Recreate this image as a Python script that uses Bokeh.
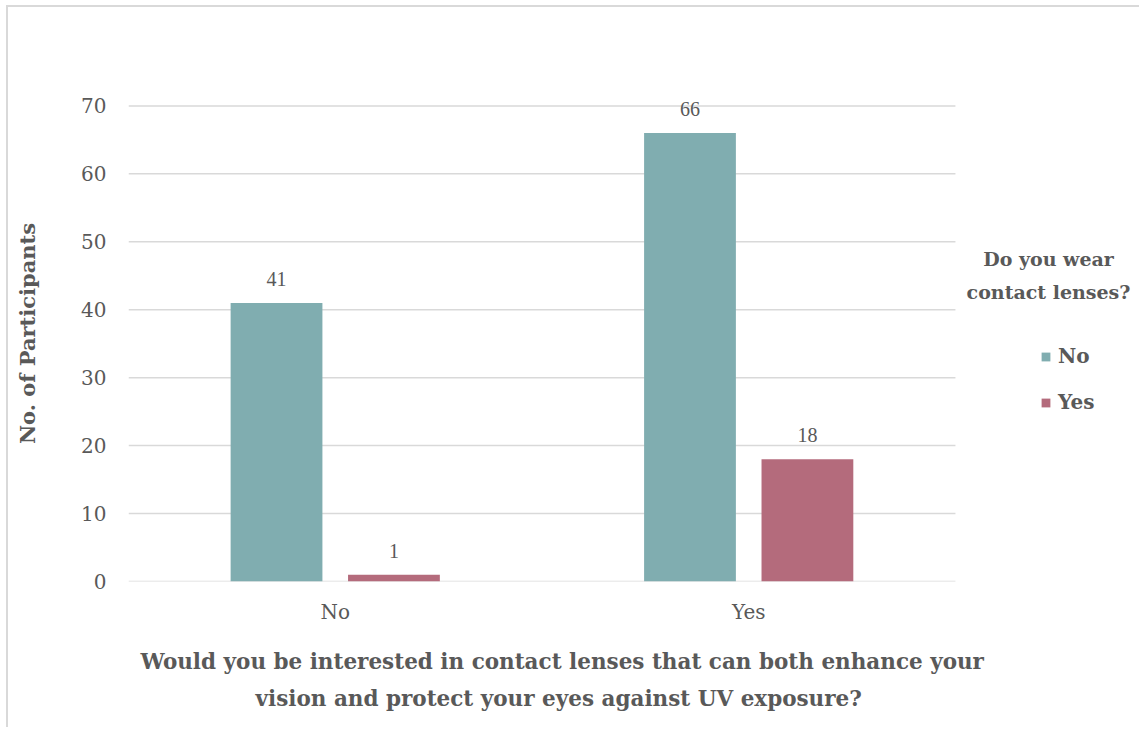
from bokeh.plotting import figure
from bokeh.models import (ColumnDataSource, Range1d, LabelSet, Label,
                          Legend, LegendItem, FixedTicker, Title)
from bokeh.transform import dodge
from bokeh.embed import file_html
from bokeh.resources import INLINE

# ---- data ----
categories = ["No", "Yes"]          # Would you be interested ...?
wear_no = [41, 66]                  # Do you wear contact lenses? No
wear_yes = [1, 18]                  # Do you wear contact lenses? Yes
series_names = ["No", "Yes"]
legend_title = ["Do you wear", "contact lenses?"]
x_title = ["Would you be interested in contact lenses that can both enhance your",
           "vision and protect your eyes against UV exposure?"]
y_title = "No. of Participants"
y_ticks = [0, 10, 20, 30, 40, 50, 60, 70]

TEAL = "#80ADB0"
PINK = "#B46B7C"
TXT = "#595959"
GRID = "#d9d9d9"
FONT = "DejaVu Serif"

n = len(categories)
centers = [i + 0.5 for i in range(n)]      # category centres on the x scale
src = ColumnDataSource(dict(xc=centers, no=wear_no, yes=wear_yes,
                            no_lbl=[str(v) for v in wear_no],
                            yes_lbl=[str(v) for v in wear_yes]))

W, H = 1133, 722
# the frame reaches the right edge so that the legend can sit inside it
p = figure(width=W, height=H, x_range=Range1d(0, 2.45), y_range=Range1d(0, 73),
           output_backend="svg", toolbar_location=None,
           min_border_left=120, min_border_right=0, min_border_top=78,
           min_border_bottom=148)
p.styles = {"margin-left": "6px", "margin-top": "5px",
            "border-left": "2px solid #d9d9d9", "border-top": "2px solid #d9d9d9"}

p.outline_line_color = None
p.background_fill_color = "white"
p.border_fill_color = "white"
p.xgrid.grid_line_color = None
p.ygrid.grid_line_color = None

# horizontal gridlines over the category span only
p.segment(x0=[0] * len(y_ticks), x1=[n] * len(y_ticks), y0=y_ticks, y1=y_ticks,
          line_color=GRID, line_width=1.5)

OFF = 0.142
BW = 0.222
r_no = p.vbar(x=dodge("xc", -OFF), top="no", width=BW, source=src,
              fill_color=TEAL, line_color=None)
r_yes = p.vbar(x=dodge("xc", OFF), top="yes", width=BW, source=src,
               fill_color=PINK, line_color=None)

for key, off in (("no", -OFF), ("yes", OFF)):
    p.add_layout(LabelSet(x=dodge("xc", off), y=key, text=key + "_lbl",
                          source=src, text_align="center", text_baseline="middle",
                          y_offset=24, text_font=FONT, text_font_size="20px",
                          text_color=TXT))

# axes
p.xaxis.ticker = FixedTicker(ticks=centers)
p.xaxis.major_label_overrides = {c: lab for c, lab in zip(centers, categories)}
p.yaxis.ticker = FixedTicker(ticks=y_ticks)
for ax in (p.xaxis[0], p.yaxis[0]):
    ax.axis_line_color = None
    ax.major_tick_line_color = None
    ax.minor_tick_line_color = None
    ax.major_tick_out = 0
    ax.major_tick_in = 0
    ax.major_label_text_font = FONT
    ax.major_label_text_font_size = "20px"
    ax.major_label_text_color = TXT
p.xaxis.major_label_standoff = 18
p.yaxis.major_label_standoff = 22
p.yaxis.axis_label = y_title
p.yaxis.axis_label_text_font = FONT
p.yaxis.axis_label_text_font_style = "bold"
p.yaxis.axis_label_text_font_size = "21px"
p.yaxis.axis_label_text_color = TXT
p.yaxis.axis_label_standoff = 38

# x-axis title, two lines
p.add_layout(Title(text=x_title[0], align="left", offset=12, standoff=40,
                   vertical_align="bottom", text_font=FONT, text_font_style="bold",
                   text_font_size="21.5px", text_color=TXT), "below")
p.add_layout(Title(text=x_title[1], align="left", offset=127, standoff=-19,
                   vertical_align="bottom", text_font=FONT, text_font_style="bold",
                   text_font_size="21.5px", text_color=TXT), "below")

# series legend
legend = Legend(items=[LegendItem(label=series_names[0], renderers=[r_no]),
                       LegendItem(label=series_names[1], renderers=[r_yes])],
                location=(912, 167), orientation="vertical",
                glyph_width=11, glyph_height=11, label_standoff=7, spacing=22,
                padding=0, margin=0, border_line_color=None,
                background_fill_alpha=0,
                label_text_font=FONT, label_text_font_style="bold",
                label_text_font_size="20px", label_text_color=TXT)
p.add_layout(legend)

# legend title
for txt, yy in zip(legend_title, (323, 290)):
    p.add_layout(Label(x=920, y=yy, x_units="screen", y_units="screen", text=txt,
                       text_align="center", text_baseline="middle", text_font=FONT,
                       text_font_style="bold", text_font_size="19px", text_color=TXT))

open("out.html", "w").write(file_html(p, INLINE))
